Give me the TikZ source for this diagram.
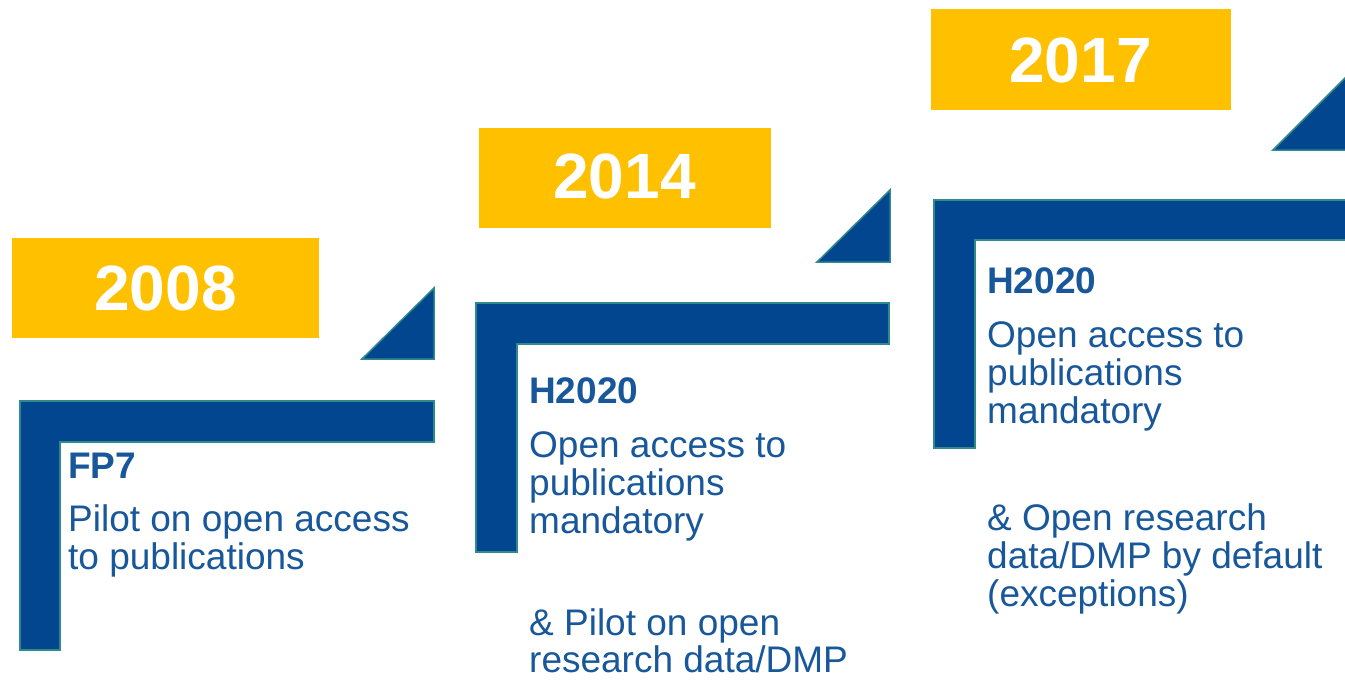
\documentclass[tikz,border=0pt]{standalone}
\usepackage{fontspec}
\setmainfont{Liberation Sans}
\definecolor{gold}{HTML}{FFC000}
\definecolor{navy}{HTML}{02468F}
\definecolor{rim}{HTML}{2E8A8C}
\definecolor{txt}{HTML}{18589A}
\tikzset{
  yearbox/.style={fill=gold, draw=none},
  bracket/.style={fill=navy, draw=rim, line width=1.5pt, line join=miter},
  yeartext/.style={anchor=base, text=white, inner sep=0pt, font=\fontsize{64}{70}\selectfont\bfseries},
  head/.style={anchor=base west, inner sep=0pt, text=txt, font=\fontsize{37}{38}\selectfont\bfseries},
  body/.style={anchor=base west, inner sep=0pt, text=txt, font=\fontsize{37}{38}\selectfont},
}
\begin{document}
\begin{tikzpicture}[x=1pt,y=-1pt]
\clip (0,0) rectangle (1345,681);
\fill[white] (0,0) rectangle (1345,681);

% ---- panel 1 (2008) ----
\fill[yearbox] (12,238) rectangle (319,338);
\node[yeartext] (y1) at (165.5,310) {2008};
\draw[bracket] (362,359) -- (434,288) -- (434,359) -- cycle;
\draw[bracket] (20,401) -- (434,401) -- (434,442) -- (60,442) -- (60,650) -- (20,650) -- cycle;
\node[head] (h1) at (68,478) {FP7};
\node[body] (b1a) at (68,531) {Pilot on open access};
\node[body] (b1b) at (68,569) {to publications};

% ---- panel 2 (2014) ----
\fill[yearbox] (479,128) rectangle (771,228);
\node[yeartext] (y2) at (624.5,198) {2014};
\draw[bracket] (817,262) -- (890,190) -- (890,262) -- cycle;
\draw[bracket] (476,303) -- (889,303) -- (889,344) -- (517,344) -- (517,552) -- (476,552) -- cycle;
\node[head] (h2) at (529,403) {H2020};
\node[body] (b2a) at (529,457) {Open access to};
\node[body] (b2b) at (529,495) {publications};
\node[body] (b2c) at (529,533) {mandatory};
\node[body] (e2a) at (529,635) {\& Pilot on open};
\node[body, text depth=0pt] (e2b) at (529,672) {research data/DMP};

% ---- panel 3 (2017) ----
\fill[yearbox] (931,9) rectangle (1231,110);
\node[yeartext] (y3) at (1080.5,82) {2017};
\draw[bracket] (1273,150) -- (1347,76) -- (1347,150) -- cycle;
\draw[bracket] (934,200) -- (1360,200) -- (1360,240) -- (975,240) -- (975,448) -- (934,448) -- cycle;
\node[head] (h3) at (987,293) {H2020};
\node[body] (b3a) at (987,347) {Open access to};
\node[body] (b3b) at (987,385) {publications};
\node[body] (b3c) at (987,423) {mandatory};
\node[body] (e3a) at (987,530) {\& Open research};
\node[body] (e3b) at (987,568) {data/DMP by default};
\node[body] (e3c) at (987,606) {(exceptions)};
\end{tikzpicture}
\end{document}
